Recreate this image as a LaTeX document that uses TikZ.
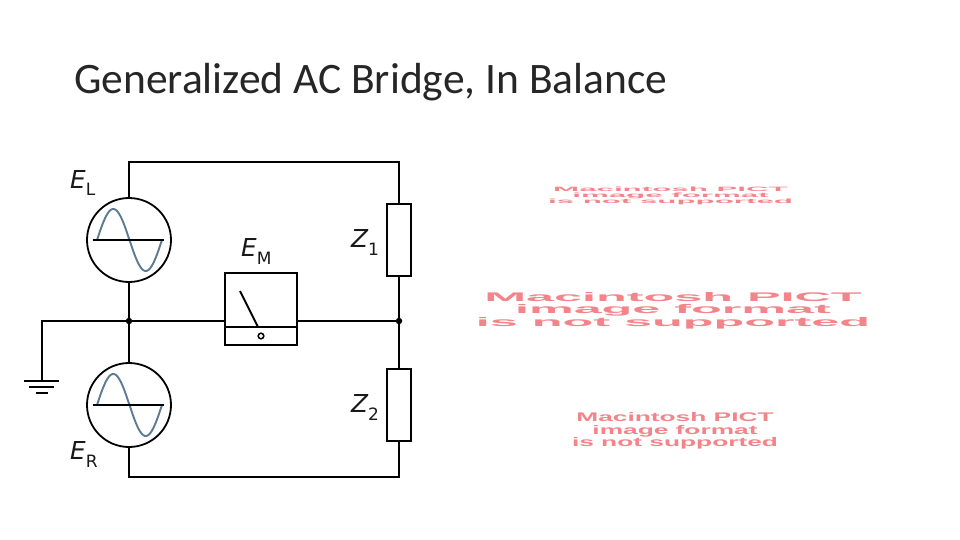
\documentclass[tikz,border=0pt]{standalone}
\usepackage{fontspec}
\setmainfont{Carlito}
\newfontfamily\djfont{DejaVu Sans}
\newfontfamily\pictfont{Liberation Sans}
\definecolor{wave}{HTML}{5B7B94}
\definecolor{pict}{HTML}{F3858A}
\definecolor{titlec}{HTML}{262626}
\newcommand{\pictbox}[2]{\resizebox*{#1}{#2}{\pictfont\bfseries\color{pict}\renewcommand{\arraystretch}{0.8}\begin{tabular}{@{}c@{}}Macintosh PICT\\image format\\is not supported\end{tabular}}}
\newcommand{\lbl}[2]{{\fontsize{24.7}{28}\djfont\itshape #1}{\fontsize{17}{18}\djfont\raisebox{-8pt}{#2}}}
\tikzset{
  wire/.style={line width=1.8pt,black},
  source/.style={circle,draw,line width=1.8pt,black,minimum size=84pt,inner sep=0pt},
  imp/.style={rectangle,draw,line width=1.8pt,black,minimum width=24pt,minimum height=72pt,inner sep=0pt},
  meter/.style={rectangle,draw,line width=1.8pt,black,minimum width=72pt,minimum height=72pt,inner sep=0pt},
  junction/.style={circle,fill=black,minimum size=6.5pt,inner sep=0pt},
  txt/.style={inner sep=0pt,text=black!90},
  wavy/.style={line width=1.9pt,wave,line join=round}
}
\begin{document}
\begin{tikzpicture}[x=1pt,y=-1pt]
\useasboundingbox (0,0) rectangle (960,540);
\fill[white] (0,0) rectangle (960,540);
\node[anchor=base west,inner sep=0pt,text=titlec] (title) at (74,94) {\fontsize{43.5}{52}\selectfont Generalized AC Bridge, In Balance};
\node[source] (sl) at (129,240) {};
\node[source] (sr) at (129,405) {};
\node[imp] (z1) at (399,240) {};
\node[imp] (z2) at (399,405) {};
\node[meter] (m) at (261,309) {};
\node[junction] (jl) at (129,321) {};
\node[junction] (jr) at (399,321) {};
\coordinate (tl) at (129,162);
\coordinate (tr) at (399,162);
\coordinate (bl) at (129,477);
\coordinate (br) at (399,477);
\coordinate (g) at (42,321);
\coordinate (g0) at (42,381);
\draw[wire] (sl.north) -- (tl) -- (tr) -- (z1.north);
\draw[wire] (sr.south) -- (bl) -- (br) -- (z2.south);
\draw[wire] (sl.south) -- (jl) -- (sr.north);
\draw[wire] (z1.south) -- (jr) -- (z2.north);
\draw[wire] (g0) -- (g) -- (jl) -- (m.west |- jl);
\draw[wire] (m.east |- jr) -- (jr);
% ground
\draw[wire] (24,381) -- (59,381);
\draw[wire] (29,387) -- (54,387);
\draw[wire] (36,393) -- (48,393);
% sine waves
\draw[wavy] plot[domain=0:360,samples=73] ({97+\x/360*65},{240-31*sin(\x)});
\draw[wavy] plot[domain=0:360,samples=73] ({97+\x/360*65},{405-31*sin(\x)});
\draw[wire] (93,240) -- (164,240);
\draw[wire] (93,405) -- (164,405);
% meter
\draw[wire] (225,327) -- (297,327);
\draw[wire] (240,291) -- (258,327);
\draw[line width=1.5pt,black,fill=white] (261,336) circle (2.8);
% labels
\node[txt,anchor=base west] (el) at (70,188) {\lbl{E}{L}};
\node[txt,anchor=base west] (er) at (70,459) {\lbl{E}{R}};
\node[txt,anchor=base west] (em) at (241,256) {\lbl{E}{M}};
\node[txt,anchor=base west] (zo) at (351,247) {\lbl{Z}{1}};
\node[txt,anchor=base west] (zt) at (351,412) {\lbl{Z}{2}};
% placeholders
\node[inner sep=0pt] (p1) at (670.5,196) {\pictbox{245pt}{19pt}};
\node[inner sep=0pt] (p2) at (673,311) {\pictbox{394pt}{38pt}};
\node[inner sep=0pt] (p3) at (675,431.5) {\pictbox{206pt}{38pt}};
\end{tikzpicture}
\end{document}
